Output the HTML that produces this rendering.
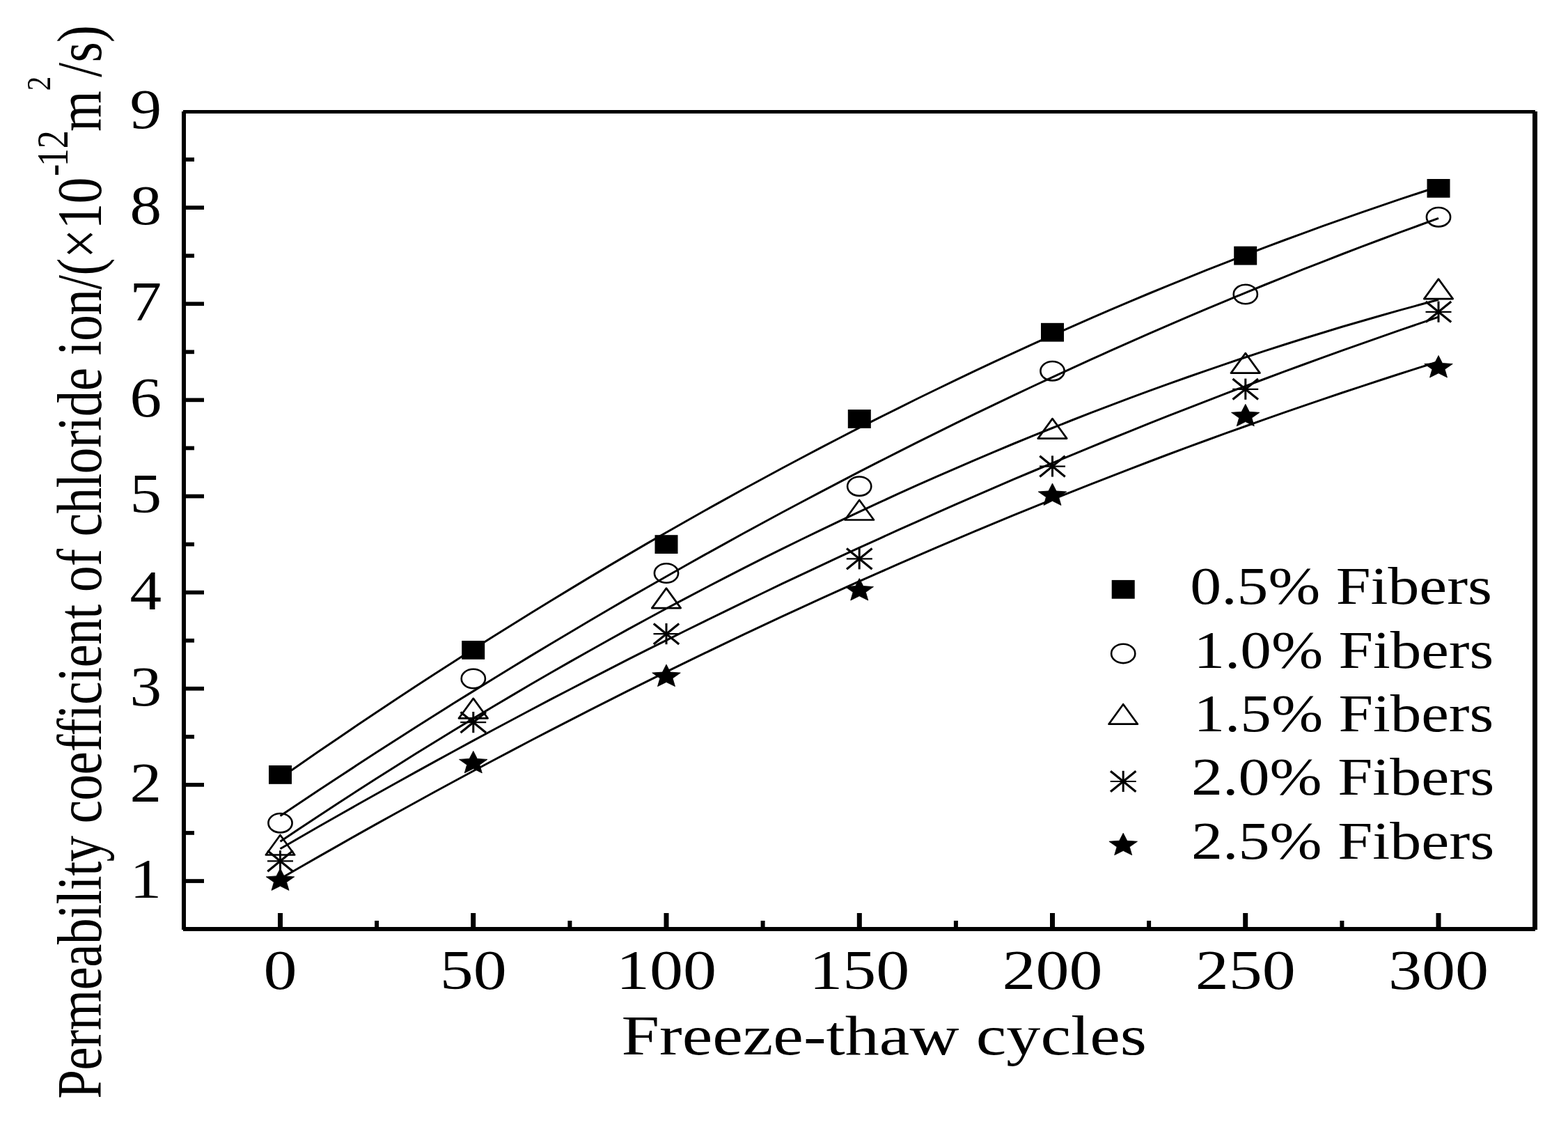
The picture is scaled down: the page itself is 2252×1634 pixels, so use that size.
<!DOCTYPE html><html><head><meta charset="utf-8"><title>Permeability coefficient of chloride ion vs Freeze-thaw cycles</title>
<style>html,body{margin:0;padding:0;background:#fff;overflow:hidden;}svg{display:block;}text{font-family:"Liberation Serif",serif;fill:#000;}</style></head><body>
<svg width="2252" height="1634" viewBox="0 0 2252 1634">
<rect x="0" y="0" width="2252" height="1634" fill="#fff"/>
<g fill="none" stroke="#000" stroke-width="3" stroke-linejoin="round">
<polyline points="402.5,1117.2 430.2,1097.9 457.9,1078.8 485.7,1059.9 513.4,1041.1 541.1,1022.5 568.9,1004.1 596.6,985.8 624.3,967.8 652.0,949.9 679.8,932.1 707.5,914.6 735.2,897.2 762.9,880.0 790.6,863.0 818.4,846.1 846.1,829.4 873.8,812.9 901.5,796.6 929.3,780.4 957.0,764.5 984.7,748.7 1012.5,733.0 1040.2,717.6 1067.9,702.3 1095.6,687.2 1123.3,672.2 1151.1,657.5 1178.8,642.9 1206.5,628.5 1234.2,614.2 1262.0,600.2 1289.7,586.3 1317.4,572.5 1345.2,559.0 1372.9,545.6 1400.6,532.4 1428.3,519.4 1456.0,506.6 1483.8,493.9 1511.5,481.4 1539.2,469.1 1567.0,456.9 1594.7,444.9 1622.4,433.1 1650.1,421.5 1677.8,410.1 1705.6,398.8 1733.3,387.7 1761.0,376.8 1788.8,366.0 1816.5,355.4 1844.2,345.0 1871.9,334.8 1899.7,324.7 1927.4,314.8 1955.1,305.1 1982.8,295.6 2010.5,286.2 2038.3,277.0 2066.0,268.0"/>
<polyline points="402.5,1171.5 430.2,1153.0 457.9,1134.5 485.7,1116.3 513.4,1098.1 541.1,1080.1 568.9,1062.3 596.6,1044.6 624.3,1027.0 652.0,1009.6 679.8,992.4 707.5,975.2 735.2,958.3 762.9,941.4 790.6,924.7 818.4,908.2 846.1,891.8 873.8,875.5 901.5,859.4 929.3,843.5 957.0,827.7 984.7,812.0 1012.5,796.4 1040.2,781.1 1067.9,765.8 1095.6,750.7 1123.3,735.8 1151.1,721.0 1178.8,706.3 1206.5,691.8 1234.2,677.4 1262.0,663.2 1289.7,649.1 1317.4,635.1 1345.2,621.4 1372.9,607.7 1400.6,594.2 1428.3,580.8 1456.0,567.6 1483.8,554.5 1511.5,541.6 1539.2,528.8 1567.0,516.2 1594.7,503.7 1622.4,491.3 1650.1,479.1 1677.8,467.1 1705.6,455.2 1733.3,443.4 1761.0,431.8 1788.8,420.3 1816.5,409.0 1844.2,397.8 1871.9,386.7 1899.7,375.8 1927.4,365.0 1955.1,354.4 1982.8,344.0 2010.5,333.6 2038.3,323.5 2066.0,313.4"/>
<polyline points="402.5,1208.2 430.2,1189.7 457.9,1171.4 485.7,1153.3 513.4,1135.3 541.1,1117.6 568.9,1100.0 596.6,1082.6 624.3,1065.5 652.0,1048.5 679.8,1031.6 707.5,1015.0 735.2,998.6 762.9,982.3 790.6,966.3 818.4,950.4 846.1,934.7 873.8,919.2 901.5,903.9 929.3,888.7 957.0,873.8 984.7,859.1 1012.5,844.5 1040.2,830.1 1067.9,815.9 1095.6,801.9 1123.3,788.1 1151.1,774.5 1178.8,761.1 1206.5,747.8 1234.2,734.8 1262.0,721.9 1289.7,709.2 1317.4,696.7 1345.2,684.4 1372.9,672.3 1400.6,660.4 1428.3,648.6 1456.0,637.0 1483.8,625.7 1511.5,614.5 1539.2,603.5 1567.0,592.7 1594.7,582.1 1622.4,571.7 1650.1,561.4 1677.8,551.4 1705.6,541.5 1733.3,531.8 1761.0,522.3 1788.8,513.0 1816.5,503.9 1844.2,495.0 1871.9,486.2 1899.7,477.7 1927.4,469.3 1955.1,461.2 1982.8,453.2 2010.5,445.4 2038.3,437.8 2066.0,430.3"/>
<polyline points="402.5,1218.8 430.2,1202.7 457.9,1186.8 485.7,1171.0 513.4,1155.3 541.1,1139.7 568.9,1124.2 596.6,1108.9 624.3,1093.6 652.0,1078.5 679.8,1063.4 707.5,1048.5 735.2,1033.7 762.9,1019.0 790.6,1004.4 818.4,990.0 846.1,975.6 873.8,961.4 901.5,947.2 929.3,933.2 957.0,919.3 984.7,905.5 1012.5,891.8 1040.2,878.3 1067.9,864.8 1095.6,851.5 1123.3,838.2 1151.1,825.1 1178.8,812.1 1206.5,799.2 1234.2,786.4 1262.0,773.8 1289.7,761.2 1317.4,748.8 1345.2,736.4 1372.9,724.2 1400.6,712.1 1428.3,700.1 1456.0,688.2 1483.8,676.5 1511.5,664.8 1539.2,653.3 1567.0,641.8 1594.7,630.5 1622.4,619.3 1650.1,608.2 1677.8,597.2 1705.6,586.3 1733.3,575.6 1761.0,564.9 1788.8,554.4 1816.5,544.0 1844.2,533.7 1871.9,523.5 1899.7,513.4 1927.4,503.4 1955.1,493.6 1982.8,483.8 2010.5,474.2 2038.3,464.6 2066.0,455.2"/>
<polyline points="402.5,1261.8 430.2,1245.8 457.9,1229.9 485.7,1214.1 513.4,1198.4 541.1,1182.9 568.9,1167.5 596.6,1152.2 624.3,1137.0 652.0,1122.0 679.8,1107.0 707.5,1092.2 735.2,1077.6 762.9,1063.0 790.6,1048.6 818.4,1034.3 846.1,1020.1 873.8,1006.1 901.5,992.2 929.3,978.3 957.0,964.7 984.7,951.1 1012.5,937.7 1040.2,924.4 1067.9,911.2 1095.6,898.1 1123.3,885.2 1151.1,872.4 1178.8,859.7 1206.5,847.1 1234.2,834.7 1262.0,822.4 1289.7,810.2 1317.4,798.1 1345.2,786.2 1372.9,774.4 1400.6,762.7 1428.3,751.1 1456.0,739.7 1483.8,728.3 1511.5,717.1 1539.2,706.1 1567.0,695.1 1594.7,684.3 1622.4,673.6 1650.1,663.0 1677.8,652.5 1705.6,642.2 1733.3,632.0 1761.0,621.9 1788.8,612.0 1816.5,602.1 1844.2,592.4 1871.9,582.8 1899.7,573.4 1927.4,564.0 1955.1,554.8 1982.8,545.7 2010.5,536.8 2038.3,527.9 2066.0,519.2"/>
</g>
<rect x="386.0" y="1099.0" width="33" height="26.8" fill="#000"/>
<rect x="663.2" y="920.0" width="33" height="26.8" fill="#000"/>
<rect x="940.5" y="768.2" width="33" height="26.8" fill="#000"/>
<rect x="1217.8" y="588.1" width="33" height="26.8" fill="#000"/>
<rect x="1495.0" y="463.8" width="33" height="26.8" fill="#000"/>
<rect x="1772.2" y="353.7" width="33" height="26.8" fill="#000"/>
<rect x="2049.5" y="257.0" width="33" height="26.8" fill="#000"/>
<ellipse cx="402.5" cy="1181.7" rx="17.1" ry="13.7" fill="none" stroke="#000" stroke-width="2.6"/>
<ellipse cx="679.8" cy="974.5" rx="17.1" ry="13.7" fill="none" stroke="#000" stroke-width="2.6"/>
<ellipse cx="957.0" cy="823.0" rx="17.1" ry="13.7" fill="none" stroke="#000" stroke-width="2.6"/>
<ellipse cx="1234.2" cy="698.2" rx="17.1" ry="13.7" fill="none" stroke="#000" stroke-width="2.6"/>
<ellipse cx="1511.5" cy="532.7" rx="17.1" ry="13.7" fill="none" stroke="#000" stroke-width="2.6"/>
<ellipse cx="1788.8" cy="422.5" rx="17.1" ry="13.7" fill="none" stroke="#000" stroke-width="2.6"/>
<ellipse cx="2066.0" cy="311.7" rx="17.1" ry="13.7" fill="none" stroke="#000" stroke-width="2.6"/>
<polygon points="402.5,1199.0 381.8,1227.5 423.2,1227.5" fill="none" stroke="#000" stroke-width="2.7" stroke-linejoin="round"/>
<polygon points="679.8,1002.9 659.0,1031.4 700.5,1031.4" fill="none" stroke="#000" stroke-width="2.7" stroke-linejoin="round"/>
<polygon points="957.0,844.6 936.3,873.1 977.7,873.1" fill="none" stroke="#000" stroke-width="2.7" stroke-linejoin="round"/>
<polygon points="1234.2,718.0 1213.5,746.5 1255.0,746.5" fill="none" stroke="#000" stroke-width="2.7" stroke-linejoin="round"/>
<polygon points="1511.5,601.1 1490.8,629.6 1532.2,629.6" fill="none" stroke="#000" stroke-width="2.7" stroke-linejoin="round"/>
<polygon points="1788.8,507.1 1768.0,535.6 1809.5,535.6" fill="none" stroke="#000" stroke-width="2.7" stroke-linejoin="round"/>
<polygon points="2066.0,400.6 2045.3,429.1 2086.7,429.1" fill="none" stroke="#000" stroke-width="2.7" stroke-linejoin="round"/>
<path d="M402.5,1221.2V1251.4" stroke="#000" stroke-width="3" fill="none"/><path d="M384.0,1236.4H421.0" stroke="#000" stroke-width="2.2" fill="none"/><path d="M384.3,1221.6L420.7,1251.2M384.3,1251.2L420.7,1221.6" stroke="#000" stroke-width="3.2" fill="none"/>
<path d="M679.8,1022.0V1052.2" stroke="#000" stroke-width="3" fill="none"/><path d="M661.2,1037.2H698.2" stroke="#000" stroke-width="2.2" fill="none"/><path d="M661.5,1022.4L698.0,1052.0M661.5,1052.0L698.0,1022.4" stroke="#000" stroke-width="3.2" fill="none"/>
<path d="M957.0,895.0V925.2" stroke="#000" stroke-width="3" fill="none"/><path d="M938.5,910.2H975.5" stroke="#000" stroke-width="2.2" fill="none"/><path d="M938.8,895.4L975.2,925.0M938.8,925.0L975.2,895.4" stroke="#000" stroke-width="3.2" fill="none"/>
<path d="M1234.2,787.2V817.4" stroke="#000" stroke-width="3" fill="none"/><path d="M1215.8,802.4H1252.8" stroke="#000" stroke-width="2.2" fill="none"/><path d="M1216.0,787.6L1252.5,817.2M1216.0,817.2L1252.5,787.6" stroke="#000" stroke-width="3.2" fill="none"/>
<path d="M1511.5,654.4V684.6" stroke="#000" stroke-width="3" fill="none"/><path d="M1493.0,669.6H1530.0" stroke="#000" stroke-width="2.2" fill="none"/><path d="M1493.3,654.8L1529.7,684.4M1493.3,684.4L1529.7,654.8" stroke="#000" stroke-width="3.2" fill="none"/>
<path d="M1788.8,543.6V573.8" stroke="#000" stroke-width="3" fill="none"/><path d="M1770.2,558.8H1807.2" stroke="#000" stroke-width="2.2" fill="none"/><path d="M1770.5,544.0L1807.0,573.6M1770.5,573.6L1807.0,544.0" stroke="#000" stroke-width="3.2" fill="none"/>
<path d="M2066.0,432.6V462.8" stroke="#000" stroke-width="3" fill="none"/><path d="M2047.5,447.8H2084.5" stroke="#000" stroke-width="2.2" fill="none"/><path d="M2047.8,433.0L2084.2,462.6M2047.8,462.6L2084.2,433.0" stroke="#000" stroke-width="3.2" fill="none"/>
<polygon points="402.5,1246.9 408.1,1257.9 422.8,1258.9 411.6,1266.7 415.0,1278.4 402.5,1272.2 390.0,1278.4 393.4,1266.7 382.2,1258.9 396.9,1257.9" fill="#000" stroke="#000" stroke-width="0.8" stroke-linejoin="round"/>
<polygon points="679.8,1078.4 685.4,1089.4 700.0,1090.4 688.9,1098.2 692.3,1109.9 679.8,1103.7 667.2,1109.9 670.6,1098.2 659.5,1090.4 674.1,1089.4" fill="#000" stroke="#000" stroke-width="0.8" stroke-linejoin="round"/>
<polygon points="957.0,954.1 962.6,965.1 977.3,966.1 966.1,973.9 969.5,985.6 957.0,979.4 944.5,985.6 947.9,973.9 936.7,966.1 951.4,965.1" fill="#000" stroke="#000" stroke-width="0.8" stroke-linejoin="round"/>
<polygon points="1234.2,830.5 1239.9,841.5 1254.5,842.5 1243.4,850.3 1246.8,862.0 1234.2,855.8 1221.7,862.0 1225.1,850.3 1214.0,842.5 1228.6,841.5" fill="#000" stroke="#000" stroke-width="0.8" stroke-linejoin="round"/>
<polygon points="1511.5,694.0 1517.1,705.0 1531.8,706.0 1520.6,713.8 1524.0,725.5 1511.5,719.3 1499.0,725.5 1502.4,713.8 1491.2,706.0 1505.9,705.0" fill="#000" stroke="#000" stroke-width="0.8" stroke-linejoin="round"/>
<polygon points="1788.8,580.3 1794.4,591.3 1809.0,592.3 1797.9,600.1 1801.3,611.8 1788.8,605.6 1776.2,611.8 1779.6,600.1 1768.5,592.3 1783.1,591.3" fill="#000" stroke="#000" stroke-width="0.8" stroke-linejoin="round"/>
<polygon points="2066.0,510.5 2071.6,521.5 2086.3,522.5 2075.1,530.3 2078.5,542.0 2066.0,535.8 2053.5,542.0 2056.9,530.3 2045.7,522.5 2060.4,521.5" fill="#000" stroke="#000" stroke-width="0.8" stroke-linejoin="round"/>
<g fill="#000">
<rect x="263" y="158" width="1942" height="5"/>
<rect x="263" y="1331" width="1942" height="6"/>
<rect x="261" y="160" width="6" height="1175"/>
<rect x="2201" y="160" width="7" height="1175"/>
<rect x="399.0" y="1311" width="7" height="21"/>
<rect x="676.2" y="1311" width="7" height="21"/>
<rect x="953.5" y="1311" width="7" height="21"/>
<rect x="1230.8" y="1311" width="7" height="21"/>
<rect x="1508.0" y="1311" width="7" height="21"/>
<rect x="1785.2" y="1311" width="7" height="21"/>
<rect x="2062.5" y="1311" width="7" height="21"/>
<rect x="538.1" y="1322" width="6" height="10"/>
<rect x="815.4" y="1322" width="6" height="10"/>
<rect x="1092.6" y="1322" width="6" height="10"/>
<rect x="1369.9" y="1322" width="6" height="10"/>
<rect x="1647.1" y="1322" width="6" height="10"/>
<rect x="1924.4" y="1322" width="6" height="10"/>
<rect x="266" y="1262.2" width="27" height="5.7"/>
<rect x="266" y="1124.0" width="27" height="5.7"/>
<rect x="266" y="985.9" width="27" height="5.7"/>
<rect x="266" y="847.8" width="27" height="5.7"/>
<rect x="266" y="709.7" width="27" height="5.7"/>
<rect x="266" y="571.5" width="27" height="5.7"/>
<rect x="266" y="433.4" width="27" height="5.7"/>
<rect x="266" y="295.3" width="27" height="5.7"/>
<rect x="266" y="1193.1" width="13" height="5.7"/>
<rect x="266" y="1055.0" width="13" height="5.7"/>
<rect x="266" y="916.9" width="13" height="5.7"/>
<rect x="266" y="778.7" width="13" height="5.7"/>
<rect x="266" y="640.6" width="13" height="5.7"/>
<rect x="266" y="502.5" width="13" height="5.7"/>
<rect x="266" y="364.4" width="13" height="5.7"/>
<rect x="266" y="226.2" width="13" height="5.7"/>
</g>
<text transform="translate(402.5,1420) scale(1.2,1)" font-size="80" text-anchor="middle">0</text>
<text transform="translate(679.8,1420) scale(1.2,1)" font-size="80" text-anchor="middle">50</text>
<text transform="translate(957.0,1420) scale(1.2,1)" font-size="80" text-anchor="middle">100</text>
<text transform="translate(1234.2,1420) scale(1.2,1)" font-size="80" text-anchor="middle">150</text>
<text transform="translate(1511.5,1420) scale(1.2,1)" font-size="80" text-anchor="middle">200</text>
<text transform="translate(1788.8,1420) scale(1.2,1)" font-size="80" text-anchor="middle">250</text>
<text transform="translate(2066.0,1420) scale(1.2,1)" font-size="80" text-anchor="middle">300</text>
<text transform="translate(209.4,1288.9) scale(1.14,1)" font-size="80" text-anchor="middle">1</text>
<text transform="translate(209.4,1150.8) scale(1.14,1)" font-size="80" text-anchor="middle">2</text>
<text transform="translate(209.4,1012.7) scale(1.14,1)" font-size="80" text-anchor="middle">3</text>
<text transform="translate(209.4,874.5) scale(1.14,1)" font-size="80" text-anchor="middle">4</text>
<text transform="translate(209.4,736.4) scale(1.14,1)" font-size="80" text-anchor="middle">5</text>
<text transform="translate(209.4,598.3) scale(1.14,1)" font-size="80" text-anchor="middle">6</text>
<text transform="translate(209.4,460.2) scale(1.14,1)" font-size="80" text-anchor="middle">7</text>
<text transform="translate(209.4,322.1) scale(1.14,1)" font-size="80" text-anchor="middle">8</text>
<text transform="translate(209.4,183.9) scale(1.14,1)" font-size="80" text-anchor="middle">9</text>
<text transform="translate(1269.7,1513.8) scale(1.2266,1)" font-size="80" text-anchor="middle">Freeze-thaw cycles</text>
<g transform="translate(144.8,1577) scale(1.2,1) rotate(-90)">
<text x="-0.86" y="0" font-size="75" style="letter-spacing:-0.484px">Permeability coefficient of chloride ion/(×10</text>
<text font-size="52" y="-39.9"><tspan x="1324">-</tspan><tspan x="1338">1</tspan><tspan x="1363.7">2</tspan></text>
<text font-size="75" x="1388.3" y="0">m</text>
<text font-size="41" x="1446.7" y="-60.5">2</text>
<text font-size="75" y="0"><tspan x="1466.2">/</tspan><tspan x="1487.6">s</tspan><tspan x="1515.8">)</tspan></text>
</g>
<rect x="1596.7" y="832.9" width="33" height="26.8" fill="#000"/>
<text transform="translate(1709.3,866.5) scale(1.1654,1)" font-size="77">0.5% Fibers</text>
<ellipse cx="1613.2" cy="938.4" rx="17.1" ry="13.7" fill="none" stroke="#000" stroke-width="2.6"/>
<text transform="translate(1714.5,958.5) scale(1.1576,1)" font-size="77">1.0% Fibers</text>
<polygon points="1613.2,1011.2 1592.5,1039.7 1633.9,1039.7" fill="none" stroke="#000" stroke-width="2.7" stroke-linejoin="round"/>
<text transform="translate(1714.5,1050.2) scale(1.1576,1)" font-size="77">1.5% Fibers</text>
<path d="M1613.2,1106.8V1137.0" stroke="#000" stroke-width="3" fill="none"/><path d="M1594.7,1122.0H1631.7" stroke="#000" stroke-width="2.2" fill="none"/><path d="M1595.0,1107.2L1631.4,1136.8M1595.0,1136.8L1631.4,1107.2" stroke="#000" stroke-width="3.2" fill="none"/>
<text transform="translate(1711,1141.2) scale(1.17,1)" font-size="77">2.0% Fibers</text>
<polygon points="1613.2,1196.2 1618.8,1207.2 1633.5,1208.2 1622.3,1216.0 1625.7,1227.7 1613.2,1221.5 1600.7,1227.7 1604.1,1216.0 1592.9,1208.2 1607.6,1207.2" fill="#000" stroke="#000" stroke-width="0.8" stroke-linejoin="round"/>
<text transform="translate(1711,1232.9) scale(1.17,1)" font-size="77">2.5% Fibers</text>
</svg></body></html>
